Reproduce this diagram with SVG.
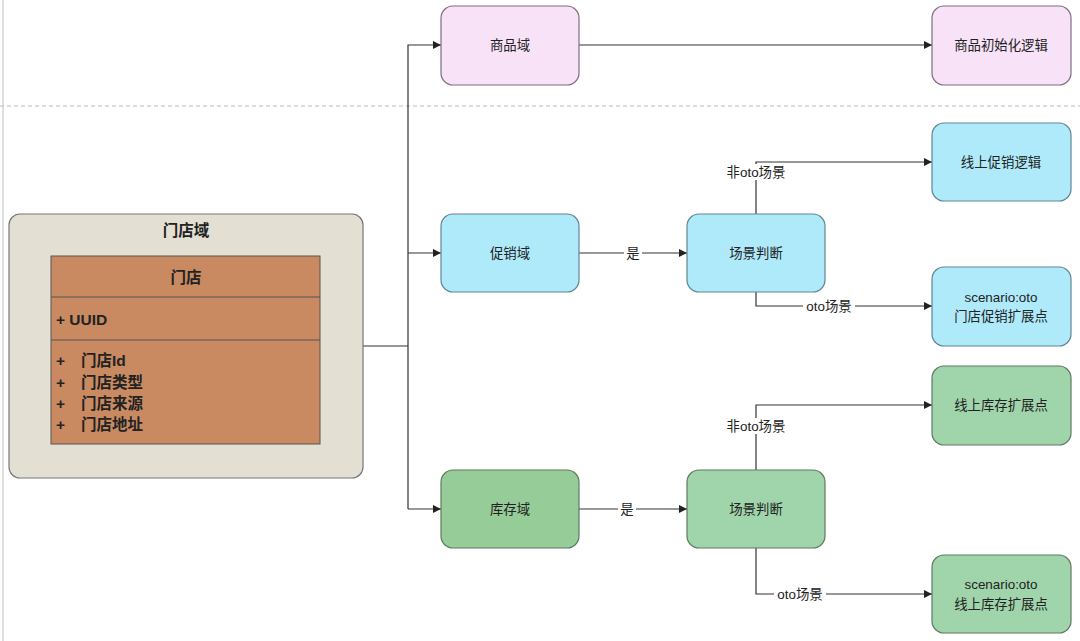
<svg xmlns="http://www.w3.org/2000/svg" width="1080" height="641" viewBox="0 0 1080 641">
<defs>
<marker id="arr" viewBox="0 0 10 10" refX="10" refY="5" markerWidth="8" markerHeight="8" markerUnits="userSpaceOnUse" orient="auto">
<path d="M0,0 L10,5 L0,10 z" fill="#222"/>
</marker>
<style>
text{font-family:"Liberation Sans","Noto Sans CJK SC",sans-serif;font-size:13.4px;fill:#222;}
.c{text-anchor:middle;dominant-baseline:central;}
.b{font-weight:bold;font-size:15.5px;}
.pink{fill:#f8e2f8;stroke:#7d6e7d;stroke-width:1.2;}
.blue{fill:#aeeafa;stroke:#5f8590;stroke-width:1.2;}
.green{fill:#95cc98;stroke:#5d7a60;stroke-width:1.2;}
.green2{fill:#a0d5ac;stroke:#5d7a60;stroke-width:1.2;}
.ln{fill:none;stroke:#333;stroke-width:1.2;}
.lbl{fill:#fff;}
</style>
</defs>
<rect width="1080" height="641" fill="#fff"/>
<line x1="3" y1="0" x2="3" y2="641" stroke="#e0e0e0" stroke-width="2"/>
<line x1="0" y1="106" x2="1080" y2="106" stroke="#bbb" stroke-width="1" stroke-dasharray="4,3"/>

<g id="connectors">
<path class="ln" d="M363,346 H408"/>
<path class="ln" d="M408,509 V45 H441" marker-end="url(#arr)"/>
<path class="ln" d="M408,253 H441" marker-end="url(#arr)"/>
<path class="ln" d="M408,509 H441" marker-end="url(#arr)"/>
<path class="ln" d="M579,45 H932" marker-end="url(#arr)"/>
<path class="ln" d="M579,253 H687" marker-end="url(#arr)"/>
<path class="ln" d="M579,509 H687" marker-end="url(#arr)"/>
<path class="ln" d="M756,214 V162 H932" marker-end="url(#arr)"/>
<path class="ln" d="M756,292 V306 H932" marker-end="url(#arr)"/>
<path class="ln" d="M756,470 V405 H932" marker-end="url(#arr)"/>
<path class="ln" d="M756,548 V594 H932" marker-end="url(#arr)"/>
<rect class="lbl" x="624" y="245" width="18" height="16"/>
<text class="c" x="633" y="253">是</text>
<rect class="lbl" x="618" y="501" width="18" height="16"/>
<text class="c" x="627" y="509">是</text>
<rect class="lbl" x="723" y="164" width="66" height="16"/>
<text class="c" x="756" y="172">非oto场景</text>
<rect class="lbl" x="803" y="298" width="52" height="16"/>
<text class="c" x="829" y="306">oto场景</text>
<rect class="lbl" x="723" y="418" width="66" height="16"/>
<text class="c" x="756" y="426">非oto场景</text>
<rect class="lbl" x="774" y="586" width="52" height="16"/>
<text class="c" x="800" y="594">oto场景</text>
</g>

<g id="store-domain">
<rect x="9" y="214" width="354" height="264" rx="11" fill="#e3dfd2" stroke="#777" stroke-width="1.2"/>
<text class="c b" x="186" y="230">门店域</text>
<rect x="51" y="256" width="269" height="188" fill="#c98a62" stroke="#555" stroke-width="1"/>
<line x1="51" y1="297" x2="320" y2="297" stroke="#555" stroke-width="1"/>
<line x1="51" y1="340" x2="320" y2="340" stroke="#555" stroke-width="1"/>
<text class="c b" x="186" y="277">门店</text>
<text class="b" x="56" y="325">+ UUID</text>
<text class="b" x="56" y="366">+</text>
<text class="b" x="81" y="366">门店Id</text>
<text class="b" x="56" y="388">+</text>
<text class="b" x="81" y="388">门店类型</text>
<text class="b" x="56" y="409">+</text>
<text class="b" x="81" y="409">门店来源</text>
<text class="b" x="56" y="430">+</text>
<text class="b" x="81" y="430">门店地址</text>
</g>

<g id="goods-domain">
<rect class="pink" x="441" y="6" width="138" height="79" rx="12"/>
<text class="c" x="510" y="45">商品域</text>
</g>
<g id="goods-init">
<rect class="pink" x="932" y="6" width="139" height="79" rx="12"/>
<text class="c" x="1001" y="45">商品初始化逻辑</text>
</g>

<g id="promo-domain">
<rect class="blue" x="441" y="214" width="138" height="78" rx="12"/>
<text class="c" x="510" y="253">促销域</text>
</g>
<g id="promo-judge">
<rect class="blue" x="687" y="214" width="138" height="78" rx="12"/>
<text class="c" x="756" y="253">场景判断</text>
</g>
<g id="promo-online">
<rect class="blue" x="932" y="123" width="139" height="78" rx="12"/>
<text class="c" x="1001" y="162">线上促销逻辑</text>
</g>
<g id="promo-oto">
<rect class="blue" x="932" y="267" width="139" height="79" rx="12"/>
<text class="c" x="1001" y="297">scenario:oto</text>
<text class="c" x="1001" y="316">门店促销扩展点</text>
</g>

<g id="stock-domain">
<rect class="green" x="441" y="470" width="138" height="78" rx="12"/>
<text class="c" x="510" y="509">库存域</text>
</g>
<g id="stock-judge">
<rect class="green2" x="687" y="470" width="138" height="78" rx="12"/>
<text class="c" x="756" y="509">场景判断</text>
</g>
<g id="stock-online">
<rect class="green2" x="932" y="366" width="139" height="79" rx="12"/>
<text class="c" x="1001" y="405">线上库存扩展点</text>
</g>
<g id="stock-oto">
<rect class="green2" x="932" y="555" width="139" height="78" rx="12"/>
<text class="c" x="1001" y="584">scenario:oto</text>
<text class="c" x="1001" y="604">线上库存扩展点</text>
</g>
</svg>
